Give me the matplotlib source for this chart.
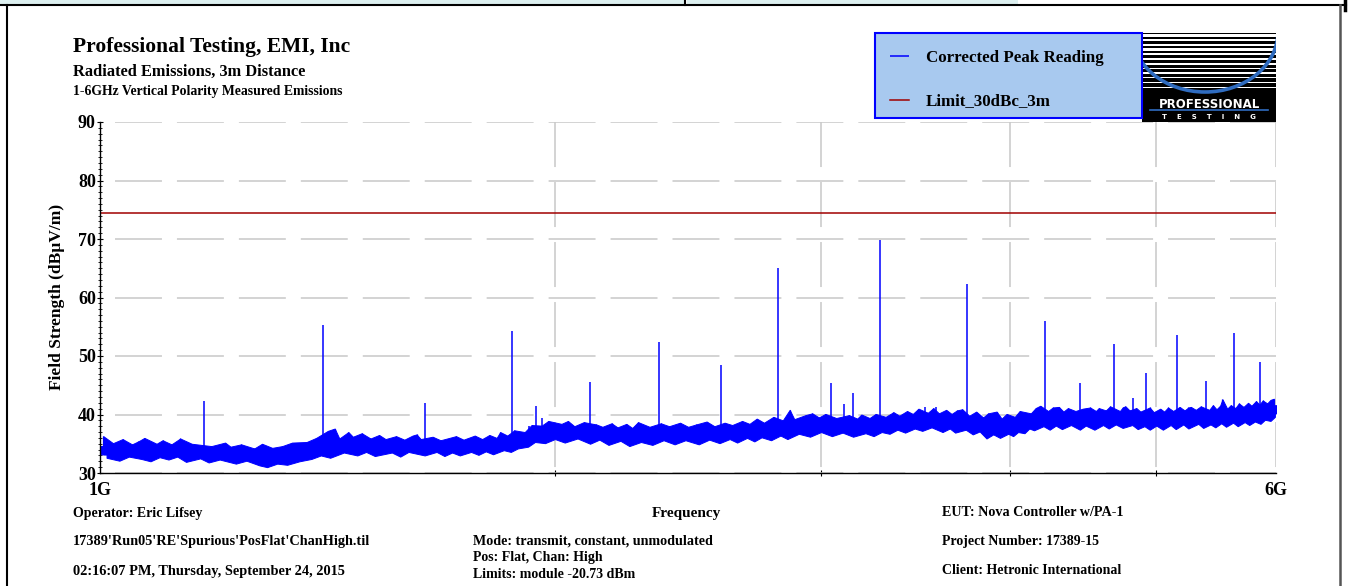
import matplotlib
matplotlib.use("Agg")
import matplotlib.pyplot as plt
import numpy as np
from matplotlib.ticker import FixedLocator, FixedFormatter, MultipleLocator, NullFormatter
from matplotlib.lines import Line2D
from matplotlib.patches import Rectangle, Arc

plt.rcParams['font.family'] = ['Liberation Serif', 'DejaVu Serif']
plt.rcParams['font.weight'] = 'bold'
plt.rcParams['axes.labelweight'] = 'bold'
plt.rcParams['lines.scale_dashes'] = False

# dense core of the noise floor, lower / upper edge (dBuV/m)
floor_ghz = [1.00, 1.04, 1.08, 1.12, 1.16, 1.20, 1.25, 1.30, 1.35, 1.40, 1.45, 1.50,
             1.55, 1.60, 1.65, 1.70, 1.75, 1.80, 1.85, 1.90, 1.95, 2.00, 2.10, 2.20,
             2.30, 2.40, 2.50, 2.60, 2.70, 2.80, 2.90, 3.00, 3.10, 3.20, 3.30, 3.40,
             3.50, 3.60, 3.70, 3.80, 3.90, 4.00, 4.10, 4.20, 4.30, 4.40, 4.50, 4.60,
             4.70, 4.80, 4.90, 5.00, 5.10, 5.20, 5.30, 5.40, 5.50, 5.60, 5.70, 5.80,
             5.90, 6.00]
floor_lo = [33.2, 33.15, 33.1, 33.2, 32.85, 32.6, 32.3, 32.15, 32.5, 33.5, 34.05, 34.05,
            33.85, 33.95, 34.1, 33.85, 34.0, 34.1, 34.45, 35.1, 36.05, 36.35, 36.1, 35.8,
            35.75, 35.9, 36.0, 36.2, 36.4, 36.8, 37.1, 37.45, 37.3, 37.2, 37.5, 37.9,
            38.3, 38.2, 38.05, 37.65, 37.2, 37.35, 38.0, 38.5, 38.65, 38.6, 38.5, 38.7,
            38.8, 38.75, 38.6, 38.5, 38.6, 38.7, 38.8, 38.85, 38.95, 39.05, 39.25, 39.5,
            39.8, 40.2]
floor_hi = [34.6, 34.55, 34.5, 34.6, 34.25, 34.0, 33.7, 33.55, 33.9, 34.9, 35.45, 35.45,
            35.25, 35.35, 35.5, 35.25, 35.4, 35.5, 35.85, 36.5, 37.45, 37.75, 37.5, 37.2,
            37.15, 37.3, 37.4, 37.6, 37.8, 38.2, 38.5, 38.85, 38.7, 38.6, 38.9, 39.3,
            39.7, 39.6, 39.45, 39.05, 38.6, 38.75, 39.4, 39.9, 40.05, 40.0, 39.9, 40.1,
            40.2, 40.15, 40.0, 39.9, 40.0, 40.1, 40.2, 40.25, 40.35, 40.45, 40.65, 40.9,
            41.2, 41.6]

# peaks poking up out of the floor
grass_ghz = [1.005, 1.02, 1.035, 1.05, 1.06, 1.07, 1.09, 1.10, 1.115, 1.13, 1.15,
             1.185, 1.21, 1.22, 1.24, 1.265, 1.28, 1.30, 1.32, 1.34, 1.37, 1.39,
             1.415, 1.43, 1.44, 1.46, 1.47, 1.49, 1.51, 1.53, 1.545, 1.57, 1.59,
             1.61, 1.62, 1.63, 1.66, 1.68, 1.72, 1.74, 1.77, 1.79, 1.81, 1.83,
             1.84, 1.86, 1.88, 1.91, 1.93, 1.96, 1.98, 2.02, 2.04, 2.06, 2.09,
             2.13, 2.15, 2.18, 2.20, 2.23, 2.25, 2.27, 2.31, 2.35, 2.38, 2.42,
             2.45, 2.48, 2.52, 2.55, 2.59, 2.62, 2.66, 2.69, 2.72, 2.75, 2.79,
             2.83, 2.86, 2.88, 2.93, 2.96, 2.99, 3.02, 3.07, 3.13, 3.17, 3.19,
             3.23, 3.26, 3.31, 3.35, 3.38, 3.42, 3.45, 3.48, 3.53, 3.56, 3.59,
             3.63, 3.66, 3.69, 3.72, 3.76, 3.80, 3.84, 3.87, 3.92, 3.95, 3.98,
             4.03, 4.06, 4.13, 4.16, 4.19, 4.24, 4.27, 4.31, 4.34, 4.37, 4.42,
             4.47, 4.52, 4.56, 4.58, 4.63, 4.66, 4.73, 4.75, 4.77, 4.80, 4.85,
             4.88, 4.95, 4.98, 5.03, 5.06, 5.09, 5.13, 5.18, 5.22, 5.25, 5.27,
             5.31, 5.35, 5.42, 5.45, 5.48, 5.51, 5.53, 5.57, 5.60, 5.64, 5.67,
             5.71, 5.75, 5.78, 5.82, 5.85, 5.88, 5.92, 5.95, 5.98]
grass_dbuv = [36.3, 35.1, 35.8, 34.9, 35.4, 36.0, 35.0, 35.6, 34.9, 35.9, 35.0,
              34.6, 35.2, 34.5, 34.9, 34.2, 35.0, 34.3, 34.6, 35.2, 35.3, 36.0,
              37.2, 37.6, 35.9, 37.0, 36.2, 36.8, 35.9, 36.5, 35.8, 36.3, 35.7,
              36.4, 36.6, 35.8, 36.2, 35.6, 36.3, 35.7, 36.4, 35.8, 36.5, 36.0,
              37.0, 36.4, 37.3, 37.0, 38.2, 38.1, 38.9, 38.4, 38.9, 38.0, 38.7,
              38.3, 37.9, 38.5, 37.8, 38.4, 37.7, 38.7, 37.9, 38.5, 38.0, 38.6,
              37.9, 38.3, 38.8, 38.0, 38.6, 38.2, 38.9, 38.4, 39.3, 38.6, 39.6,
              39.0, 40.8, 39.2, 39.9, 40.2, 39.5, 40.1, 39.4, 39.9, 39.3, 40.0,
              39.4, 40.1, 39.6, 40.4, 39.8, 40.6, 40.1, 41.0, 40.3, 41.1, 40.2,
              40.8, 40.1, 40.7, 40.9, 39.8, 40.5, 39.5, 40.2, 40.5, 39.3, 40.1,
              39.6, 40.6, 40.2, 41.1, 41.5, 40.6, 41.2, 41.3, 40.5, 41.1, 40.6,
              41.0, 41.2, 40.6, 41.1, 40.7, 41.4, 40.6, 41.2, 41.4, 40.7, 41.1,
              40.5, 41.2, 40.4, 41.0, 40.5, 41.2, 40.6, 41.3, 40.7, 41.2, 41.3,
              40.8, 41.4, 40.8, 41.6, 40.9, 41.5, 42.6, 41.0, 41.6, 41.1, 41.9,
              41.3, 42.0, 41.5, 42.3, 41.7, 42.4, 41.9, 42.5, 42.7]

# dips reaching below the floor
dip_ghz = [1.01, 1.03, 1.045, 1.065, 1.08, 1.095, 1.11, 1.125, 1.14, 1.165, 1.18,
           1.20, 1.23, 1.25, 1.275, 1.29, 1.31, 1.33, 1.355, 1.38, 1.40, 1.42, 1.45,
           1.48, 1.50, 1.52, 1.56, 1.58, 1.60, 1.64, 1.67, 1.69, 1.71, 1.73, 1.76,
           1.78, 1.80, 1.82, 1.85, 1.87, 1.89, 1.92, 1.94, 1.97, 2.00, 2.03, 2.07,
           2.11, 2.14, 2.17, 2.21, 2.24, 2.28, 2.32, 2.36, 2.40, 2.44, 2.49, 2.53,
           2.57, 2.61, 2.64, 2.68, 2.71, 2.74, 2.78, 2.82, 2.85, 2.90, 2.95, 3.00,
           3.05, 3.10, 3.15, 3.21, 3.25, 3.29, 3.33, 3.37, 3.41, 3.46, 3.50, 3.55,
           3.61, 3.65, 3.68, 3.74, 3.78, 3.82, 3.86, 3.90, 3.94, 3.99, 4.02, 4.05,
           4.09, 4.12, 4.15, 4.21, 4.25, 4.29, 4.33, 4.39, 4.45, 4.49, 4.55, 4.61,
           4.65, 4.70, 4.75, 4.82, 4.86, 4.91, 4.95, 5.00, 5.05, 5.11, 5.15, 5.21,
           5.25, 5.33, 5.37, 5.43, 5.47, 5.52, 5.56, 5.62, 5.66, 5.72, 5.76, 5.81,
           5.86, 5.90, 5.95, 5.99]
dip_dbuv = [32.6, 32.1, 32.8, 32.4, 32.0, 32.7, 32.3, 32.8, 31.9, 32.5, 31.8,
            32.3, 31.6, 32.1, 31.3, 31.0, 31.6, 31.4, 32.0, 32.4, 33.0, 32.6, 33.5,
            33.0, 33.6, 32.9, 33.5, 32.8, 33.6, 33.0, 33.6, 32.9, 33.5, 33.0, 33.6,
            33.1, 33.7, 33.2, 33.9, 33.6, 34.2, 34.5, 35.3, 35.1, 35.8, 35.2, 35.9,
            35.0, 35.7, 34.8, 35.5, 34.6, 35.3, 34.8, 35.6, 34.9, 35.6, 34.9, 35.7,
            35.1, 35.8, 35.2, 36.0, 35.4, 36.1, 35.6, 36.4, 35.8, 36.7, 36.2, 37.0,
            36.3, 36.9, 36.2, 36.8, 36.3, 37.0, 36.7, 37.4, 36.9, 37.6, 37.2, 37.8,
            37.0, 37.6, 36.9, 37.4, 36.6, 37.1, 35.9, 36.6, 36.0, 36.7, 36.3, 37.0,
            36.8, 37.6, 37.3, 38.0, 37.4, 38.1, 37.5, 38.2, 37.4, 38.1, 37.4, 38.2,
            37.6, 38.3, 37.7, 38.2, 37.5, 38.0, 37.4, 38.1, 37.4, 38.2, 37.5, 38.3,
            37.6, 38.4, 37.7, 38.3, 37.8, 38.5, 37.9, 38.6, 38.0, 38.7, 38.2, 38.8,
            38.4, 39.1, 38.9, 39.6]

# discrete emissions
spike_ghz = [1.171, 1.405, 1.641, 1.874, 1.922, 1.944, 1.961, 2.109, 2.344, 2.577,
             2.811, 3.046, 3.107, 3.150, 3.282, 3.515, 3.575, 3.749, 4.218, 4.453,
             4.688, 4.828, 4.922, 5.158, 5.391, 5.626, 5.859]
spike_dbuv = [42.3, 55.3, 41.9, 54.2, 38.0, 41.4, 39.4, 45.5, 52.4, 48.4,
              65.0, 45.3, 41.8, 43.7, 69.8, 41.3, 41.2, 62.3, 56.0, 45.4,
              52.1, 42.8, 47.1, 53.6, 45.7, 53.9, 48.9]

limit_ghz = [1.0, 6.0]
limit_dbuv = [74.5, 74.5]

y_ticks = [30, 40, 50, 60, 70, 80, 90]
x_major = [1, 6]
x_labels = ['1G', '6G']
x_minor = [2, 3, 4, 5]

W, H = 1348, 586
BLUE = '#0000ff'


def fx(px):
    return px / W


def fy(py):
    return 1 - py / H


fig = plt.figure(figsize=(W / 100, H / 100), dpi=100, facecolor='white')
ax = fig.add_axes([fx(100), fy(473), 1176 / W, 351 / H])
ax.set_axisbelow(True)

# noise floor: solid core with ragged upper and lower fringes
ax.fill_between(floor_ghz, floor_lo, floor_hi, color=BLUE, lw=0.8)
ax.fill_between(grass_ghz, np.interp(grass_ghz, floor_ghz, floor_lo), grass_dbuv,
                color=BLUE, lw=0.7)
ax.fill_between(dip_ghz, dip_dbuv, np.interp(dip_ghz, floor_ghz, floor_hi),
                color=BLUE, lw=0.7)
ax.vlines(grass_ghz, np.interp(grass_ghz, floor_ghz, floor_lo), grass_dbuv,
          color=BLUE, lw=0.9)
trace = ax.vlines(spike_ghz, np.interp(spike_ghz, floor_ghz, floor_lo), spike_dbuv,
                  color=BLUE, lw=1.1)
limit, = ax.plot(limit_ghz, limit_dbuv, color='#a00000', lw=1.1)

ax.set_xscale('log')
ax.set_xlim(1, 6)
ax.set_ylim(30, 90)
ax.xaxis.set_major_locator(FixedLocator(x_major))
ax.xaxis.set_major_formatter(FixedFormatter(x_labels))
ax.xaxis.set_minor_locator(FixedLocator(x_minor))
ax.xaxis.set_minor_formatter(NullFormatter())
ax.yaxis.set_major_locator(FixedLocator(y_ticks))
ax.yaxis.set_minor_locator(MultipleLocator(1))
ax.tick_params(axis='x', which='major', length=0, pad=6.5, labelsize=13)
ax.tick_params(axis='x', which='minor', direction='inout', length=5, width=0.8)
ax.tick_params(axis='y', which='major', direction='inout', length=5, width=0.8,
               labelsize=13, pad=0.5)
ax.tick_params(axis='y', which='minor', direction='inout', length=3, width=0.6)
for s in ['top', 'right']:
    ax.spines[s].set_visible(False)
for s in ['left', 'bottom']:
    ax.spines[s].set_linewidth(1.0)

ax.grid(axis='y', which='major', color='#c8c8c8', lw=1.1, ls=(33.8, (33.8, 10.8)))
ax.grid(axis='x', which='both', color='#c8c8c8', lw=1.1, ls=(38.9, (32.4, 10.8)))

ax.set_xlabel('Frequency', fontsize=11)
ax.xaxis.set_label_coords((686 - 100) / 1176, (473 - 514) / 351)
ax.xaxis.label.set_va('center')
ax.set_ylabel('Field Strength (dB\u00b5V/m)', fontsize=12.5)
ax.yaxis.set_label_coords((57 - 100) / 1176, (473 - 297) / 351)
ax.yaxis.label.set_va('center')

# header
fig.text(fx(73), fy(52), 'Professional Testing, EMI, Inc', fontsize=15.5, va='baseline')
fig.text(fx(73), fy(76), 'Radiated Emissions, 3m Distance', fontsize=11.8, va='baseline')
fig.text(fx(73), fy(95), '1-6GHz Vertical Polarity Measured Emissions', fontsize=9.9,
         va='baseline')

# legend panel
fig.add_artist(Rectangle((fx(875), fy(118)), (1142 - 875) / W, 85 / H,
                         transform=fig.transFigure, fc='#a8c9ef', ec=BLUE, lw=1.5,
                         zorder=1))
fig.legend([trace, limit], ['Corrected Peak Reading', 'Limit_30dBc_3m'],
           loc='upper left', bbox_to_anchor=(fx(890), fy(50)), frameon=False,
           fontsize=12.2, handlelength=1.1, handletextpad=1.0, labelspacing=1.62,
           borderpad=0, borderaxespad=0)

# company logo
lax = fig.add_axes([fx(1142), fy(122), 134 / W, 89 / H])
lax.set_xlim(0, 134)
lax.set_ylim(89, 0)
lax.axis('off')
lax.add_patch(Rectangle((0, 0), 134, 89, color='black'))
for i in range(12):
    top = 1 + i * 4.8
    lax.add_patch(Rectangle((0, top), 134, 2.8 - i * 0.17, color='white', lw=0))
lax.add_patch(Arc((63, -1), 146, 120, theta1=0, theta2=180, color='#2f6cc0', lw=2.6))
lax.text(67, 71, 'PROFESSIONAL', color='white', family='DejaVu Sans', fontsize=8.5,
         weight='bold', ha='center', va='center')
lax.plot([8, 126], [77, 77], color='#2f6cc0', lw=1.2)
lax.text(67, 84, 'T    E    S    T    I    N    G', color='white', family='DejaVu Sans',
         fontsize=5, weight='bold', ha='center', va='center')

# footer
fig.text(fx(73), fy(513), 'Operator: Eric Lifsey', fontsize=10, va='center')
fig.text(fx(73), fy(541), "17389'Run05'RE'Spurious'PosFlat'ChanHigh.til", fontsize=10.3,
         va='center')
fig.text(fx(73), fy(571), '02:16:07 PM, Thursday, September 24, 2015', fontsize=10.4,
         va='center')
fig.text(fx(473), fy(541), 'Mode: transmit, constant, unmodulated', fontsize=10.2,
         va='center')
fig.text(fx(473), fy(557), 'Pos: Flat, Chan: High', fontsize=10, va='center')
fig.text(fx(473), fy(575), 'Limits: module -20.73 dBm', fontsize=10, va='center')
fig.text(fx(942), fy(513), 'EUT: Nova Controller w/PA-1', fontsize=10.2, va='center')
fig.text(fx(942), fy(541), 'Project Number: 17389-15', fontsize=10, va='center')
fig.text(fx(942), fy(570), 'Client: Hetronic International', fontsize=10, va='center')

# page frame
fig.add_artist(Rectangle((0, fy(4)), fx(685), 4 / H, transform=fig.transFigure,
                         fc='#dcefef', lw=0))
fig.add_artist(Rectangle((fx(687), fy(4)), (1018 - 687) / W, 4 / H,
                         transform=fig.transFigure, fc='#dcefef', lw=0))
fig.add_artist(Line2D([0, fx(1346)], [fy(4.5), fy(4.5)], color='black', lw=1.5))
fig.add_artist(Line2D([fx(685), fx(685)], [1, fy(4.5)], color='black', lw=1.5))
fig.add_artist(Line2D([fx(7), fx(7)], [fy(4.5), 0], color='black', lw=1.5))
fig.add_artist(Line2D([fx(1340), fx(1340)], [fy(5), 0], color='#555555', lw=1.8))
fig.add_artist(Line2D([fx(1345), fx(1345)], [1, fy(10)], color='black', lw=2.5))

fig.savefig('out.png', dpi=100, facecolor='white')
